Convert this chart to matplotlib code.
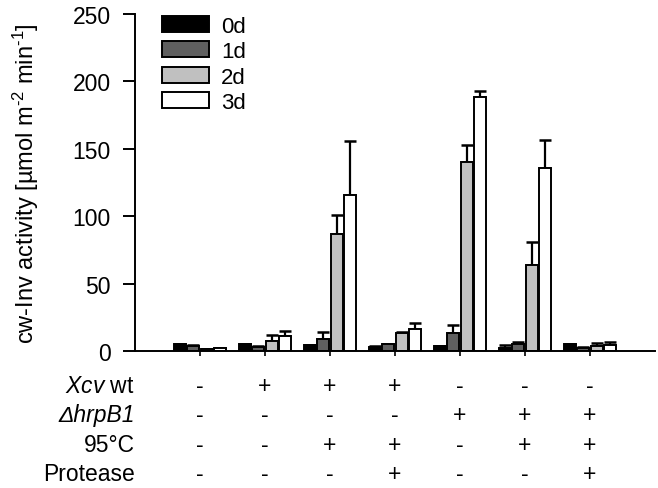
import numpy as np
import matplotlib
matplotlib.use("Agg")
import matplotlib.pyplot as plt

plt.rcParams.update({"font.family": ["Liberation Sans", "DejaVu Sans"], "font.size": 16.5,
                     "mathtext.fontset": "custom", "mathtext.rm": "Liberation Sans",
                     "mathtext.it": "Liberation Sans:italic", "mathtext.default": "regular"})

# ---------- data ----------
days = ["0d", "1d", "2d", "3d"]
colors = ["#000000", "#5f5f5f", "#c0c0c0", "#ffffff"]
# mean activity per treatment (7 treatments) for each day
mean_0d = [4.9, 4.9, 4.2, 3.2, 3.7, 2.5, 5.0]
mean_1d = [3.4, 3.0, 9.2, 5.0, 13.1, 5.5, 2.5]
mean_2d = [1.5, 7.5, 86.6, 13.6, 139.9, 63.6, 3.7]
mean_3d = [2.0, 10.8, 115.8, 16.1, 188.1, 135.4, 4.2]
err_0d = [0.3, 0.2, 0.3, 0.3, 0.3, 2.0, 0.3]
err_1d = [0.8, 0.8, 4.9, 0.4, 6.0, 1.5, 0.5]
err_2d = [0.3, 4.5, 14.1, 0.8, 12.8, 17.6, 2.5]
err_3d = [0.4, 4.2, 40.1, 4.9, 4.9, 21.0, 2.8]

row_names = [r"$\it{Xcv}$ wt", "ΔhrpB1", "95°C", "Protease"]
row_italic = [False, True, False, False]
xcv_wt = ["-", "+", "+", "+", "-", "-", "-"]
hrpb1 = ["-", "-", "-", "-", "+", "+", "+"]
heat95 = ["-", "-", "+", "+", "-", "+", "+"]
protease = ["-", "-", "-", "+", "-", "-", "+"]

means = [mean_0d, mean_1d, mean_2d, mean_3d]
errs = [err_0d, err_1d, err_2d, err_3d]
rows = [xcv_wt, hrpb1, heat95, protease]

fig = plt.figure(figsize=(6.58, 4.89), dpi=100)
ax = fig.add_axes([135/658, 137/489, 520/658, 337/489])
x = np.arange(len(mean_0d))
step, w = 0.206, 0.185
for i, (m, e, c, lab) in enumerate(zip(means, errs, colors, days)):
    pos = x + (i - 1.5) * step
    ax.bar(pos, m, w, color=c, edgecolor="black", linewidth=1.4, label=lab, zorder=2)
    ax.errorbar(pos, m, yerr=[np.zeros(len(m)), e], fmt="none", ecolor="black",
                elinewidth=1.6, capsize=4.5, capthick=1.8, zorder=1)

ax.set_xlim(-1, 7); ax.set_ylim(0, 250)
ax.set_yticks(range(0, 251, 50))
ax.set_xticks(x); ax.set_xticklabels([])
for s in ["top", "right"]: ax.spines[s].set_visible(False)
for s in ["left", "bottom"]: ax.spines[s].set_linewidth(1.4)
ax.tick_params(axis="y", direction="out", length=8.5, width=1.4, pad=9)
ax.tick_params(axis="x", direction="out", length=3.5, width=1.2)
ax.set_ylabel(r"cw-Inv activity [µmol m$^{\text{-}2}$ min$^{\text{-}1}$]", fontsize=17)
ax.yaxis.set_label_coords(-0.18, 0.5)

ax.legend(loc="upper left", bbox_to_anchor=(0.052, 0.995), frameon=False, borderpad=0,
          borderaxespad=0, handlelength=2.12, handleheight=0.72, handletextpad=0.54,
          labelspacing=0.2, fontsize=16)

# treatment table under the axis
tr = ax.get_xaxis_transform()
for r, (name, vals) in enumerate(zip(row_names, rows)):
    yy = -0.101 - r * 0.0875
    ax.text(0, yy, name, transform=ax.transAxes, ha="right", va="center",
            fontstyle="italic" if row_italic[r] else "normal")
    for xi, v in zip(x, vals):
        ax.text(xi, yy, v, transform=tr, ha="center", va="center")

fig.savefig("out.png", dpi=100)
